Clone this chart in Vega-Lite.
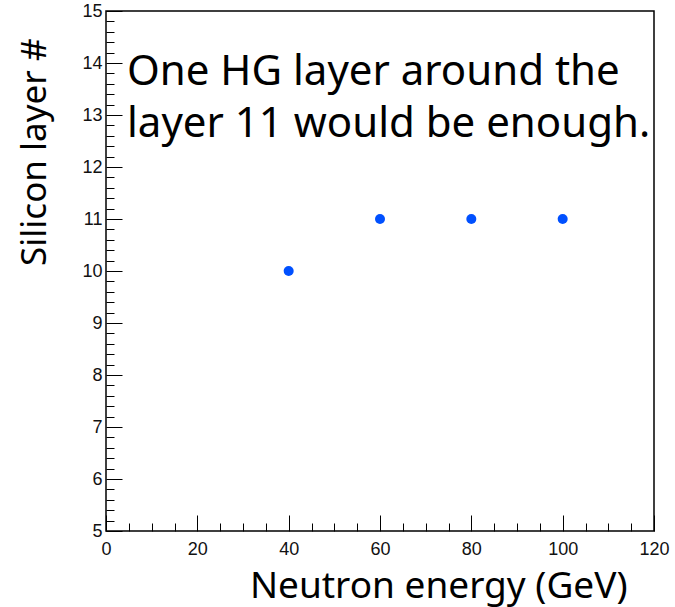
{
  "$schema": "https://vega.github.io/schema/vega-lite/v6.json",
  "autosize": {"type": "none"},
  "width": 548,
  "height": 520,
  "padding": {"left": 106, "top": 11, "right": 21, "bottom": 76},
  "background": "white",
  "config": {
    "view": {"stroke": "black", "strokeWidth": 1.5},
    "axis": {
      "grid": false,
      "domain": false,
      "labelFont": "Liberation Sans",
      "labelFontSize": 18,
      "labelColor": "#111111",
      "labelFlush": false,
      "labelOverlap": false,
      "labelBound": false,
      "tickColor": "black",
      "tickWidth": 1,
      "titleFont": "Noto Sans",
      "titleFontWeight": "normal",
      "titleColor": "black"
    }
  },
  "encoding": {
    "x": {
      "field": "energy", "type": "quantitative",
      "scale": {"domain": [0, 120], "nice": false, "zero": false},
      "axis": {
        "title": "Neutron energy (GeV)",
        "values": [0,5,10,15,20,25,30,35,40,45,50,55,60,65,70,75,80,85,90,95,100,105,110,115,120],
        "labelExpr": "datum.value % 20 === 0 ? format(datum.value, 'd') : ''",
        "tickSize": {"condition": {"test": "datum.value % 20 === 0", "value": -16}, "value": -8},
        "labelPadding": 25,
        "titleFontSize": 37,
        "titleAlign": "right",
        "titleAnchor": null,
        "titleBaseline": "alphabetic",
        "titleX": 521,
        "titleY": 66
      }
    },
    "y": {
      "field": "layer", "type": "quantitative",
      "scale": {"domain": [5, 15], "nice": false, "zero": false},
      "axis": {
        "title": "Silicon layer #",
        "values": [5,5.2,5.4,5.6,5.8,6,6.2,6.4,6.6,6.8,7,7.2,7.4,7.6,7.8,8,8.2,8.4,8.6,8.8,9,9.2,9.4,9.6,9.8,10,10.2,10.4,10.6,10.8,11,11.2,11.4,11.6,11.8,12,12.2,12.4,12.6,12.8,13,13.2,13.4,13.6,13.8,14,14.2,14.4,14.6,14.8,15],
        "labelExpr": "abs(datum.value - round(datum.value)) < 0.01 ? format(datum.value, 'd') : ''",
        "tickSize": {"condition": {"test": "abs(datum.value - round(datum.value)) < 0.01", "value": -16}, "value": -8},
        "labelPadding": 20,
        "titleFontSize": 35,
        "titleAngle": -90,
        "titleAlign": "right",
        "titleAnchor": null,
        "titleBaseline": "alphabetic",
        "titleX": -61,
        "titleY": 27
      }
    }
  },
  "layer": [
    {
      "data": {"values": [
        {"energy": 40, "layer": 10},
        {"energy": 60, "layer": 11},
        {"energy": 80, "layer": 11},
        {"energy": 100, "layer": 11}
      ]},
      "mark": {"type": "point", "shape": "circle", "filled": true, "size": 100, "color": "#0050ff", "opacity": 1}
    },
    {
      "data": {"values": [
        {"energy": 4.6, "layer": 13.57, "note": ["One HG layer around the", "layer 11 would be enough."]}
      ]},
      "mark": {"type": "text", "align": "left", "baseline": "alphabetic", "font": "Noto Sans", "fontSize": 42, "lineHeight": 51.4, "color": "black"},
      "encoding": {
        "text": {"field": "note"}
      }
    }
  ]
}
